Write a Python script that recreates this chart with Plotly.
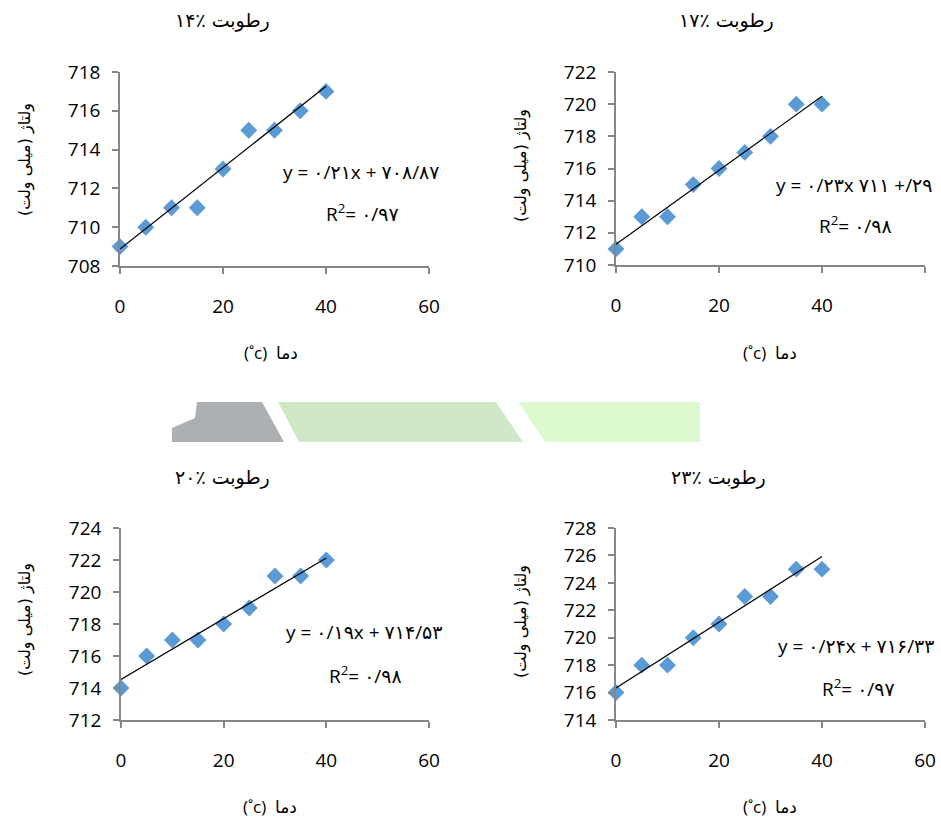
import plotly.graph_objects as go

W, H = 941, 825

temps = [0, 5, 10, 15, 20, 25, 30, 35, 40]
v14 = [709, 710, 711, 711, 713, 715, 715, 716, 717]
v17 = [711, 713, 713, 715, 716, 717, 718, 720, 720]
v20 = [714, 716, 717, 717, 718, 719, 721, 721, 722]
v23 = [716, 718, 718, 720, 721, 723, 723, 725, 725]
slopes = [0.21, 0.23, 0.19, 0.24]
intercepts = [708.87, 711.29, 714.53, 716.33]
titles = ["رطوبت ٪۱۴", "رطوبت ٪۱۷", "رطوبت ٪۲۰", "رطوبت ٪۲۳"]
eq_texts = ["y = ۰/۲۱x + ۷۰۸/۸۷", "y = ۰/۲۳x ۷۱۱ +/۲۹", "y = ۰/۱۹x + ۷۱۴/۵۳", "y = ۰/۲۴x + ۷۱۶/۳۳"]
r2_texts = ["R<sup>2</sup>= ۰/۹۷", "R<sup>2</sup>= ۰/۹۸", "R<sup>2</sup>= ۰/۹۸", "R<sup>2</sup>= ۰/۹۷"]
y_ranges = [(708, 718), (710, 722), (712, 724), (714, 728)]
x_ticks = [0, 20, 40, 60]
x_tick_text = [["0", "20", "40", "60"], ["0", "20", "40", ""], ["0", "20", "40", "60"], ["0", "20", "40", "60"]]
y_title = "\u200fولتاژ (میلی ولت)\u200f"
x_title = "(˚c)  دما"

series = [v14, v17, v20, v23]

# pixel layout of each panel: (x0px, x60px, ytop px, ybottom px)
panels = [(120, 429, 72, 266), (616, 925, 72, 265), (121, 429, 528, 720), (616, 925, 528, 720)]
eq_pos = [((361, 172), (362, 213)), ((854, 185), (855, 225)), ((364, 632), (365, 675)), ((856, 646), (858, 688))]
title_pos = [(222, 20), (726, 20), (222, 478), (718, 478)]
xt_pos = [(271, 352), (770, 352), (270, 806), (770, 806)]
yt_pos = [(25, 160), (521, 166), (25, 620), (521, 622)]

def px(x):
    return x / W

def py(y):
    return 1 - y / H

fig = go.Figure()
axis_color = "#868686"
blue = "#5B9BD5"
anns = []
for i in range(4):
    sx = "" if i == 0 else str(i + 1)
    xa, ya = "x" + sx, "y" + sx
    x0p, x1p, ytp, ybp = panels[i]
    fig.add_trace(go.Scatter(x=temps, y=series[i], mode="markers", xaxis=xa, yaxis=ya,
                             marker=dict(symbol="diamond", size=13, color=blue),
                             cliponaxis=False, showlegend=False))
    tx = [min(temps), max(temps)]
    ty = [slopes[i] * t + intercepts[i] for t in tx]
    fig.add_trace(go.Scatter(x=tx, y=ty, mode="lines", xaxis=xa, yaxis=ya,
                             line=dict(color="black", width=1.2), showlegend=False))
    common = dict(showgrid=False, zeroline=False, showline=True, linecolor=axis_color, linewidth=1.5,
                  ticks="outside", ticklen=6, tickcolor=axis_color, tickwidth=1.5, automargin=False,
                  tickfont=dict(family="Open Sans", size=19, color="black"))
    fig.layout["xaxis" + sx] = dict(domain=[px(x0p), px(x1p)], range=[0, 60], anchor=ya,
                                    tickvals=x_ticks, ticktext=x_tick_text[i], ticklabelstandoff=16, **common)
    fig.layout["yaxis" + sx] = dict(domain=[py(ybp), py(ytp)], range=list(y_ranges[i]), anchor=xa,
                                    dtick=2, ticklabelstandoff=8, **common)
    (ex, ey), (rx, ry) = eq_pos[i]
    anns.append(dict(x=px(ex), y=py(ey), text=eq_texts[i], font=dict(family="Open Sans, DejaVu Sans", size=19, color="black")))
    anns.append(dict(x=px(rx), y=py(ry), text=r2_texts[i], font=dict(family="Open Sans, DejaVu Sans", size=19, color="black")))
    anns.append(dict(x=px(title_pos[i][0]), y=py(title_pos[i][1]), text=titles[i], font=dict(family="DejaVu Sans", size=19, color="black")))
    anns.append(dict(x=px(xt_pos[i][0]), y=py(xt_pos[i][1]), text=x_title, font=dict(family="Open Sans, DejaVu Sans", size=17, color="black")))
    anns.append(dict(x=px(yt_pos[i][0]), y=py(yt_pos[i][1]), text=y_title, textangle=-90, font=dict(family="DejaVu Sans", size=16, color="black")))

for a in anns:
    a.update(xref="paper", yref="paper", showarrow=False, xanchor="center", yanchor="middle")

# decorative band between rows
def poly(points):
    return "M " + " L ".join(f"{px(x)},{py(y)}" for x, y in points) + " Z"

shapes = [
    dict(type="path", path=poly([(197, 402), (262, 402), (284, 442), (172, 442), (172, 428), (195, 418)]),
         fillcolor="#ADB0B3", line=dict(width=0)),
    dict(type="path", path=poly([(278, 402), (496, 402), (523, 442), (299, 442)]),
         fillcolor="#CFE8C8", line=dict(width=0)),
    dict(type="path", path=poly([(518, 402), (700, 402), (700, 442), (545, 442)]),
         fillcolor="#DCF9D0", line=dict(width=0)),
]
for s in shapes:
    s.update(xref="paper", yref="paper", layer="below")

fig.update_layout(width=W, height=H, margin=dict(l=0, r=0, t=0, b=0, autoexpand=False), paper_bgcolor="white",
                  plot_bgcolor="white", annotations=anns, shapes=shapes, showlegend=False)
fig.write_html("out.html")
